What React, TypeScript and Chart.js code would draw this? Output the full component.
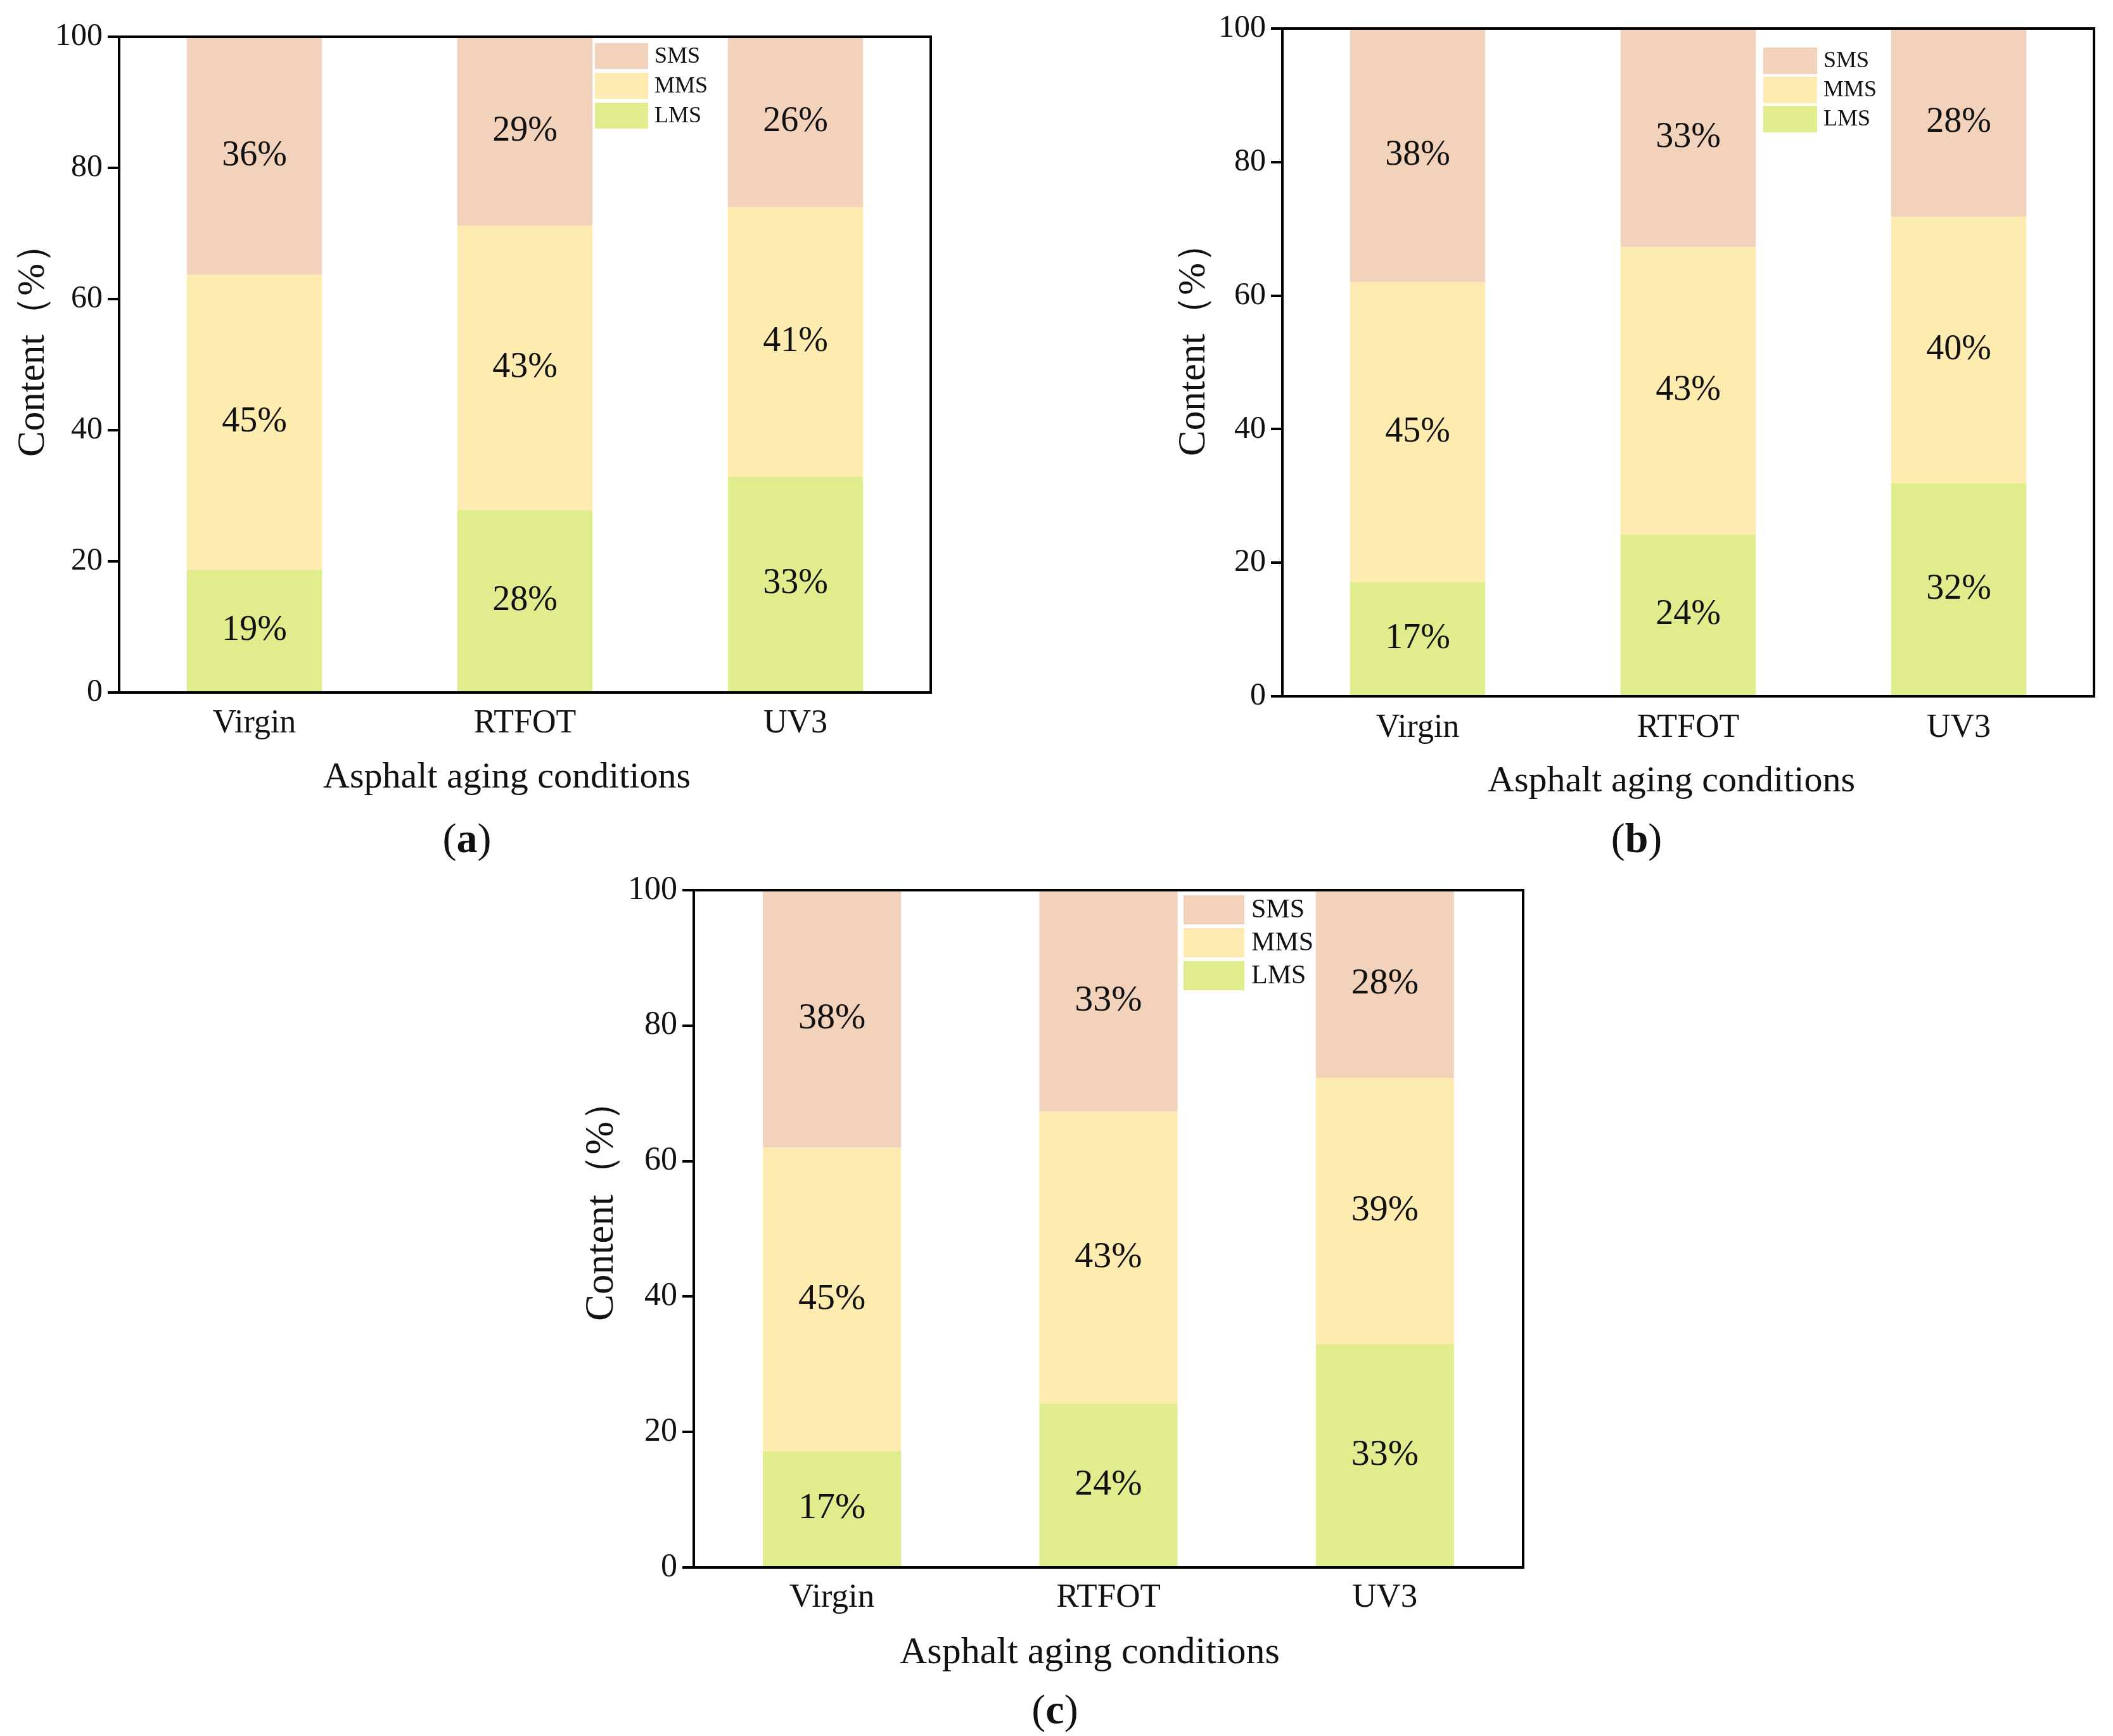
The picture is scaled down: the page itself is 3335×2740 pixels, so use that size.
import React, { useEffect, useRef } from "react";
import { Chart, registerables } from "chart.js";

Chart.register(...registerables);

// ---------- data ----------
const categories = ["Virgin", "RTFOT", "UV3"];
const seriesNames = ["LMS", "MMS", "SMS"];
const legendOrder = ["SMS", "MMS", "LMS"];
const yTickValues = [0, 20, 40, 60, 80, 100];

// panel (a)
const lmsA = [18.7, 27.8, 32.9];
const mmsA = [45.0, 43.4, 41.1];
const smsA = [36.3, 28.8, 26.0];
// panel (b)
const lmsB = [17.1, 24.2, 31.9];
const mmsB = [44.9, 43.1, 39.9];
const smsB = [38.0, 32.7, 28.2];
// panel (c)
const lmsC = [17.2, 24.2, 33.0];
const mmsC = [44.8, 43.1, 39.3];
const smsC = [38.0, 32.7, 27.7];

const xTitle = "Asphalt aging conditions";
const yTitle = "Content（%）";

// ---------- styles ----------
const FONT = '"Liberation Serif", "Times New Roman", Times, serif';
const COLORS: Record<string, string> = {
  LMS: "#E1EC8D",
  MMS: "#FDEBAF",
  SMS: "#F3D2BC",
};

type Panel = {
  id: string;
  tag: string;
  lms: number[];
  mms: number[];
  sms: number[];
  cx: number; cy: number; cw: number; ch: number;
  L: number; T: number; R: number; B: number;
  tickFont: number; catFont: number; labelFont: number; titleFont: number; yTitleFont: number;
  xLabelY: number;
  yTitleX: number; yTitleY: number;
  xTitleX: number; xTitleY: number;
  tagX: number; tagY: number; tagFont: number;
  legX: number; legY: number; legPitch: number; legW: number; legH: number; legFont: number; legGap: number;
};

const panels: Panel[] = [
  {
    id: "a", tag: "a", lms: lmsA, mms: mmsA, sms: smsA,
    cx: 0, cy: 0, cw: 1600, ch: 1370,
    L: 188, T: 58, R: 1469, B: 1093,
    tickFont: 50, catFont: 52, labelFont: 56, titleFont: 58, yTitleFont: 61,
    xLabelY: 1142,
    yTitleX: 53, yTitleY: 538,
    xTitleX: 800, xTitleY: 1228,
    tagX: 737, tagY: 1328, tagFont: 66,
    legX: 939, legY: 68, legPitch: 47, legW: 84, legH: 41, legFont: 36, legGap: 10,
  },
  {
    id: "b", tag: "b", lms: lmsB, mms: mmsB, sms: smsB,
    cx: 1700, cy: 0, cw: 1635, ch: 1370,
    L: 2024, T: 45, R: 3305, B: 1099,
    tickFont: 50, catFont: 52, labelFont: 56, titleFont: 58, yTitleFont: 61,
    xLabelY: 1149,
    yTitleX: 1885, yTitleY: 537,
    xTitleX: 2638, xTitleY: 1234,
    tagX: 2583, tagY: 1328, tagFont: 66,
    legX: 2783, legY: 75, legPitch: 46, legW: 85, legH: 42, legFont: 36, legGap: 10,
  },
  {
    id: "c", tag: "c", lms: lmsC, mms: mmsC, sms: smsC,
    cx: 850, cy: 1360, cw: 1650, ch: 1380,
    L: 1095, T: 1405, R: 2404, B: 2474,
    tickFont: 52, catFont: 53, labelFont: 58, titleFont: 60, yTitleFont: 63,
    xLabelY: 2522,
    yTitleX: 950, yTitleY: 1896,
    xTitleX: 1720, xTitleY: 2609,
    tagX: 1665, tagY: 2703, tagFont: 66,
    legX: 1868, legY: 1413, legPitch: 52, legW: 96, legH: 46, legFont: 42, legGap: 11,
  },
];

function PanelChart({ p }: { p: Panel }) {
  const ref = useRef<HTMLCanvasElement | null>(null);

  useEffect(() => {
    const canvas = ref.current;
    if (!canvas) return;
    const ox = p.cx;
    const oy = p.cy;
    const catLH = p.catFont * 1.2;
    const seriesData: Record<string, number[]> = { LMS: p.lms, MMS: p.mms, SMS: p.sms };

    const overlay = {
      id: "overlay_" + p.id,
      afterDatasetsDraw(chart: any) {
        const ctx = chart.ctx as CanvasRenderingContext2D;
        ctx.save();
        ctx.fillStyle = "#111";
        ctx.font = `${p.labelFont}px ${FONT}`;
        ctx.textAlign = "center";
        ctx.textBaseline = "middle";
        chart.data.datasets.forEach((ds: any, di: number) => {
          const meta = chart.getDatasetMeta(di);
          meta.data.forEach((el: any, i: number) => {
            const v = ds.data[i] as number;
            ctx.fillText(`${Math.round(v)}%`, el.x, (el.y + el.base) / 2);
          });
        });
        const a = chart.chartArea;
        ctx.strokeStyle = "#000";
        ctx.lineWidth = 4;
        ctx.beginPath();
        ctx.moveTo(a.left - 2, a.top);
        ctx.lineTo(a.right, a.top);
        ctx.lineTo(a.right, a.bottom + 2);
        ctx.stroke();
        ctx.restore();
      },
      afterDraw(chart: any) {
        const ctx = chart.ctx as CanvasRenderingContext2D;
        ctx.save();
        // legend
        legendOrder.forEach((name, k) => {
          const bx = p.legX - ox;
          const by = p.legY - oy + k * p.legPitch;
          ctx.fillStyle = COLORS[name];
          ctx.fillRect(bx, by, p.legW, p.legH);
          ctx.fillStyle = "#111";
          ctx.font = `${p.legFont}px ${FONT}`;
          ctx.textAlign = "left";
          ctx.textBaseline = "middle";
          ctx.fillText(name, bx + p.legW + p.legGap, by + p.legH / 2 + 1);
        });
        // axis titles
        ctx.fillStyle = "#111";
        ctx.font = `${p.titleFont}px ${FONT}`;
        ctx.textAlign = "center";
        ctx.textBaseline = "middle";
        ctx.fillText(xTitle, p.xTitleX - ox, p.xTitleY - oy);
        ctx.save();
        ctx.font = `${p.yTitleFont}px ${FONT}`;
        ctx.translate(p.yTitleX - ox, p.yTitleY - oy);
        ctx.rotate(-Math.PI / 2);
        ctx.fillText(yTitle, 0, 0);
        ctx.restore();
        // panel tag "(a)"
        const fN = `${p.tagFont}px ${FONT}`;
        const fB = `bold ${p.tagFont}px ${FONT}`;
        ctx.font = fN;
        const wP1 = ctx.measureText("(").width;
        const wP2 = ctx.measureText(")").width;
        ctx.font = fB;
        const wT = ctx.measureText(p.tag).width;
        let x = p.tagX - ox - (wP1 + wT + wP2) / 2;
        const y = p.tagY - oy;
        ctx.textAlign = "left";
        ctx.font = fN;
        ctx.fillText("(", x, y);
        x += wP1;
        ctx.font = fB;
        ctx.fillText(p.tag, x, y);
        x += wT;
        ctx.font = fN;
        ctx.fillText(")", x, y);
        ctx.restore();
      },
    };

    const chart = new Chart(canvas, {
      type: "bar",
      data: {
        labels: categories,
        datasets: seriesNames.map((name) => ({
          label: name,
          data: seriesData[name],
          backgroundColor: COLORS[name],
          borderWidth: 0,
          barPercentage: 0.5,
          categoryPercentage: 1.0,
        })),
      },
      options: {
        animation: false,
        responsive: false,
        devicePixelRatio: 1,
        events: [],
        layout: {
          padding: {
            left: 0,
            top: p.T - oy,
            right: ox + p.cw - p.R,
            bottom: 0,
          },
        },
        plugins: {
          legend: { display: false },
          tooltip: { enabled: false },
          title: { display: false },
        },
        scales: {
          x: {
            stacked: true,
            grid: { display: false, drawTicks: false },
            border: { display: true, color: "#000", width: 4, z: 2 },
            ticks: {
              color: "#111",
              font: { family: FONT, size: p.catFont },
              padding: p.xLabelY - p.B - catLH / 2,
              maxRotation: 0,
            },
            afterFit: (s: any) => {
              s.height = oy + p.ch - p.B;
            },
          },
          y: {
            stacked: true,
            min: 0,
            max: 100,
            afterBuildTicks: (s: any) => {
              s.ticks = yTickValues.map((v) => ({ value: v }));
            },
            grid: {
              display: true,
              drawOnChartArea: false,
              drawTicks: true,
              tickLength: 18,
              color: "#000",
              lineWidth: 4,
            },
            border: { display: true, color: "#000", width: 4, z: 2 },
            ticks: {
              color: "#111",
              font: { family: FONT, size: p.tickFont },
              padding: 8,
            },
            afterFit: (s: any) => {
              s.width = p.L - ox;
            },
          },
        },
      },
      plugins: [overlay],
    } as any);

    return () => {
      chart.destroy();
    };
  }, [p]);

  return (
    <canvas
      ref={ref}
      width={p.cw}
      height={p.ch}
      style={{
        position: "absolute",
        left: p.cx,
        top: p.cy,
        width: p.cw,
        height: p.ch,
      }}
    />
  );
}

export default function App() {
  return (
    <div
      style={{
        position: "absolute",
        left: 0,
        top: 0,
        width: 3335,
        height: 2740,
        background: "#fff",
        overflow: "hidden",
      }}
    >
      {panels.map((p) => (
        <PanelChart key={p.id} p={p} />
      ))}
    </div>
  );
}
